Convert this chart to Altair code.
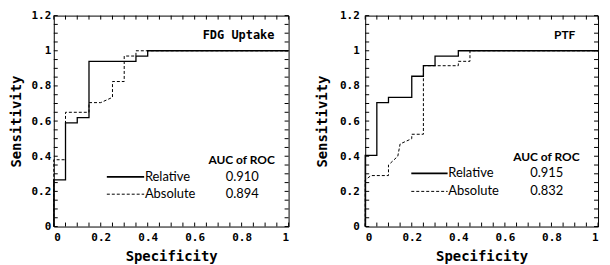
import altair as alt
import pandas as pd

# ---- data ----
fdg_rel_x = [0, 0, 0.05, 0.05, 0.10, 0.10, 0.15, 0.15, 0.35, 0.35, 0.40, 0.40, 1.0]
fdg_rel_y = [0, 0.265, 0.265, 0.59, 0.59, 0.62, 0.62, 0.94, 0.94, 0.97, 0.97, 1.0, 1.0]
fdg_abs_x = [0, 0, 0.05, 0.05, 0.15, 0.15, 0.20, 0.25, 0.25, 0.30, 0.30, 0.35, 0.35, 1.0]
fdg_abs_y = [0, 0.38, 0.38, 0.65, 0.65, 0.705, 0.705, 0.735, 0.825, 0.825, 0.97, 0.97, 1.0, 1.0]

ptf_rel_x = [0, 0, 0.05, 0.05, 0.10, 0.10, 0.20, 0.20, 0.25, 0.25, 0.30, 0.30, 0.40, 0.40, 1.0]
ptf_rel_y = [0, 0.405, 0.405, 0.705, 0.705, 0.735, 0.735, 0.855, 0.855, 0.915, 0.915, 0.97, 0.97, 1.0, 1.0]
ptf_abs_x = [0, 0, 0.025, 0.10, 0.10, 0.14, 0.15, 0.20, 0.20, 0.25, 0.25, 0.40, 0.40, 0.45, 0.45, 1.0]
ptf_abs_y = [0, 0.265, 0.29, 0.29, 0.35, 0.40, 0.47, 0.50, 0.525, 0.525, 0.915, 0.915, 0.94, 0.94, 1.0, 1.0]

series_names = ["Relative", "Absolute"]
fdg_auc = ["0.910", "0.894"]
ptf_auc = ["0.915", "0.832"]
auc_header = "AUC of ROC"
panel_titles = ["FDG Uptake", "PTF"]

x_tick_labels = [0, 0.2, 0.4, 0.6, 0.8, 1]
y_tick_labels = [0, 0.2, 0.4, 0.6, 0.8, 1, 1.2]
x_minor = [round(0.05 * i, 2) for i in range(21)]
y_minor = [round(0.05 * i, 2) for i in range(25)]

H = 212
MONO = "DejaVu Sans Mono"
SANS = "Lato"


def df_curve(xs, ys):
    return pd.DataFrame({"x": xs, "y": ys, "i": list(range(len(xs)))})


def panel(W, rel, ab, title, title_pos, title_font, aucs, auc_pos, leg_pos,
          label_pad, title_pad):
    xs = alt.Scale(domain=[0, 1], nice=False, zero=False)
    ys = alt.Scale(domain=[0, 1.2], nice=False, zero=False)
    xaxis = alt.Axis(values=x_tick_labels, format="~g", ticks=False, domain=False,
                     grid=False, labelFont=MONO, labelFontWeight="bold",
                     labelFontSize=11, labelColor="black", labelPadding=5,
                     titleFont=MONO, titleFontWeight="bold", titleFontSize=14,
                     titleColor="black", titlePadding=7)
    yaxis = alt.Axis(values=y_tick_labels, format="~g", ticks=False, domain=False,
                     grid=False, labelFont=MONO, labelFontWeight="bold",
                     labelFontSize=11, labelColor="black", labelPadding=label_pad,
                     titleFont=MONO, titleFontWeight="bold", titleFontSize=14,
                     titleColor="black", titlePadding=title_pad)

    def X(f):
        return alt.X(f, type="quantitative", scale=xs, axis=xaxis, title="Specificity")

    def Y(f):
        return alt.Y(f, type="quantitative", scale=ys, axis=yaxis, title="Sensitivity")

    rel_line = alt.Chart(df_curve(*rel)).mark_line(
        color="black", strokeWidth=1.3).encode(x=X("x"), y=Y("y"), order="i:Q")
    abs_line = alt.Chart(df_curve(*ab)).mark_line(
        color="black", strokeWidth=1, strokeDash=[3, 2]).encode(
        x=X("x"), y=Y("y"), order="i:Q")

    # inward ticks on all four sides
    ydf = pd.DataFrame({"v": y_minor})
    xdf = pd.DataFrame({"v": x_minor})
    tl = alt.Chart(ydf).mark_rule(color="black", strokeWidth=1).encode(
        y=Y("v"), x=alt.value(0), x2=alt.value(4))
    tr = alt.Chart(ydf).mark_rule(color="black", strokeWidth=1).encode(
        y=Y("v"), x=alt.value(W - 4), x2=alt.value(W))
    tb = alt.Chart(xdf).mark_rule(color="black", strokeWidth=1).encode(
        x=X("v"), y=alt.value(H - 4), y2=alt.value(H))
    tt = alt.Chart(xdf).mark_rule(color="black", strokeWidth=1).encode(
        x=X("v"), y=alt.value(0), y2=alt.value(4))

    # panel title
    ttl = alt.Chart(pd.DataFrame({"x": [title_pos[0]], "y": [title_pos[1]], "t": [title]})
                    ).mark_text(font=title_font[0], fontWeight="bold", fontSize=title_font[1],
                                color="black", align="center", baseline="middle").encode(
        x=X("x"), y=Y("y"), text="t:N")

    # AUC header and values
    auc_df = pd.DataFrame({"x": [auc_pos[0]], "y": [auc_pos[1]], "t": [auc_header]})
    auc_h = alt.Chart(auc_df).mark_text(font=SANS, fontWeight="bold", fontSize=12,
                                        color="black", align="center",
                                        baseline="middle").encode(
        x=X("x"), y=Y("y"), text="t:N")
    val_df = pd.DataFrame({"x": [auc_pos[2], auc_pos[2]],
                           "y": [leg_pos[2], leg_pos[3]], "t": aucs})
    auc_v = alt.Chart(val_df).mark_text(font=SANS, fontSize=13, color="black",
                                        align="center", baseline="middle").encode(
        x=X("x"), y=Y("y"), text="t:N")

    # legend
    l1 = alt.Chart(pd.DataFrame({"x": [leg_pos[0], leg_pos[1]], "y": [leg_pos[2]] * 2})
                   ).mark_line(color="black", strokeWidth=1.8).encode(x=X("x"), y=Y("y"))
    l2 = alt.Chart(pd.DataFrame({"x": [leg_pos[0], leg_pos[1]], "y": [leg_pos[3]] * 2})
                   ).mark_line(color="black", strokeWidth=1, strokeDash=[3, 2]).encode(
        x=X("x"), y=Y("y"))
    leg_df = pd.DataFrame({"x": [leg_pos[1] + 0.003] * 2,
                           "y": [leg_pos[2], leg_pos[3]], "t": series_names})
    lt = alt.Chart(leg_df).mark_text(font=SANS, fontSize=13, color="black",
                                     align="left", baseline="middle").encode(
        x=X("x"), y=Y("y"), text="t:N")

    return alt.layer(rel_line, abs_line, tl, tr, tb, tt, ttl, auc_h, auc_v,
                     l1, l2, lt).properties(width=W, height=H)


left = panel(236, (fdg_rel_x, fdg_rel_y), (fdg_abs_x, fdg_abs_y),
             panel_titles[0], (0.787, 1.092), (MONO, 12), fdg_auc,
             (0.80, 0.38, 0.803), (0.226, 0.385, 0.283, 0.184), 3, 8)
right = panel(234, (ptf_rel_x, ptf_rel_y), (ptf_abs_x, ptf_abs_y),
              panel_titles[1], (0.857, 1.092), (SANS, 12), ptf_auc,
              (0.778, 0.397, 0.78), (0.198, 0.354, 0.302, 0.20), 6, 10)

chart = alt.hconcat(left, right, spacing=22).properties(
    padding={"left": 0, "top": 0, "right": 0, "bottom": 0}
).configure_view(stroke="black", strokeWidth=1)

chart.save("out.html", embed_options={"renderer": "svg", "actions": False})
